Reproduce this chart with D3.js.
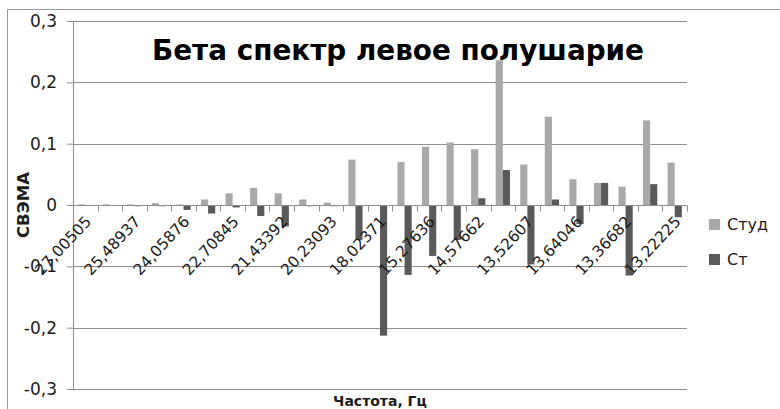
<!DOCTYPE html>
<html>
<head>
<meta charset="utf-8">
<script src="https://cdn.jsdelivr.net/npm/d3@7/dist/d3.min.js"></script>
<style>
  html, body { margin: 0; padding: 0; background: #fff; }
  svg { display: block; }
</style>
</head>
<body>
<svg id="chart" width="780" height="409"></svg>
<script>
// ---- data ----
const categories = d3.range(1, 26); // 25 frequency bins
const tickLabels = ["27,00505", "25,48937", "24,05876", "22,70845", "21,43392", "20,23093",
                    "18,02371", "15,27636", "14,57662", "13,52607", "13,64046", "13,36682", "13,22225"];
const seriesNames = ["Студ", "Ст"];
const stud = [0.001, 0.001, 0.001, 0.003, 0.001, 0.009, 0.019, 0.028, 0.019, 0.009, 0.004, 0.074, 0.000,
              0.070, 0.095, 0.102, 0.091, 0.236, 0.066, 0.144, 0.042, 0.036, 0.030, 0.138, 0.069];
const st   = [0.000, -0.001, -0.002, -0.002, -0.008, -0.014, -0.004, -0.018, -0.035, -0.002, -0.002, -0.057, -0.213,
              -0.114, -0.083, -0.057, 0.011, 0.057, -0.097, 0.009, -0.031, 0.036, -0.115, 0.034, -0.020];
const yTicks = [-0.3, -0.2, -0.1, 0, 0.1, 0.2, 0.3];
const titleText = "Бета спектр левое полушарие";
const yTitle = "СВЭМА";
const xTitle = "Частота, Гц";

// ---- layout ----
const svg = d3.select("#chart");
const plot = { left: 73, right: 687, top: 21, bottom: 389 };
const colors = { "Студ": "#a9a9a9", "Ст": "#5a5a5a" };
const gridColor = "#8f8f8f";
const textColor = "#1c1c1c";
const font = "'DejaVu Sans', sans-serif";

// outer chart border
svg.append("path")
  .attr("d", "M7.5,409 L7.5,9.5 L780,9.5")
  .attr("fill", "none").attr("stroke", "#9a9a9a").attr("stroke-width", 1);

const x = d3.scaleBand().domain(categories).range([plot.left, plot.right]).padding(0);
const bw = x.bandwidth();
const x1 = d3.scaleBand().domain(seriesNames).range([bw * 0.21, bw * 0.79]).padding(0);
const y = d3.scaleLinear().domain([-0.3, 0.3]).range([plot.bottom, plot.top]);

// gridlines + y axis
const yAxis = d3.axisLeft(y).tickValues(yTicks).tickSize(6).tickPadding(10)
  .tickFormat(d => d3.format(".1f")(d).replace(".", ",").replace("−", "-").replace("0,0", "0"));
const gy = svg.append("g").attr("transform", `translate(${plot.left},0)`).call(yAxis);
gy.select(".domain").attr("stroke", gridColor);
gy.selectAll(".tick line").attr("stroke", gridColor);
gy.selectAll(".tick text").attr("fill", textColor).style("font-family", font).style("font-size", "17px");

svg.append("g").selectAll("line").data(yTicks.filter(d => d !== 0)).join("line")
  .attr("x1", plot.left).attr("x2", plot.right)
  .attr("y1", d => Math.round(y(d)) + 0.5).attr("y2", d => Math.round(y(d)) + 0.5)
  .attr("stroke", gridColor).attr("stroke-width", 1);

// title (inside plot area)
const title = svg.append("text")
  .attr("x", 398).attr("y", 60).attr("text-anchor", "middle")
  .style("font-family", font).style("font-weight", "bold").style("font-size", "28px")
  .attr("fill", "#000").text(titleText);
const tl = title.node().getComputedTextLength();
title.style("font-size", (28 * 492 / tl) + "px");

// bars
const data = categories.map((c, i) => ({ c, vals: [{ s: "Студ", v: stud[i] }, { s: "Ст", v: st[i] }] }));
svg.append("g").selectAll("g").data(data).join("g")
  .attr("transform", d => `translate(${x(d.c)},0)`)
  .selectAll("rect").data(d => d.vals).join("rect")
  .attr("x", d => x1(d.s))
  .attr("width", x1.bandwidth())
  .attr("y", d => y(Math.max(0, d.v)))
  .attr("height", d => Math.abs(y(d.v) - y(0)))
  .attr("fill", d => colors[d.s]);

// x axis line at zero with ticks at category boundaries
const zeroY = Math.round(y(0)) + 0.5;
svg.append("line").attr("x1", plot.left).attr("x2", plot.right)
  .attr("y1", zeroY).attr("y2", zeroY).attr("stroke", gridColor);
const bounds = categories.map(c => x(c)).concat([plot.right]);
svg.append("g").selectAll("line").data(bounds).join("line")
  .attr("x1", d => Math.round(d) + 0.5).attr("x2", d => Math.round(d) + 0.5)
  .attr("y1", zeroY).attr("y2", zeroY + 6).attr("stroke", gridColor);

// x tick labels (every second category), rotated
const labelCats = categories.filter((c, i) => i % 2 === 0);
svg.append("g").selectAll("text").data(labelCats).join("text")
  .attr("transform", d => `translate(${x(d) + bw / 2 + 3},${zeroY + 13}) rotate(-47)`)
  .attr("text-anchor", "end").attr("dy", "0.35em")
  .style("font-family", font).style("font-size", "15.5px").attr("fill", textColor)
  .text((d, i) => tickLabels[i]);

// axis titles
svg.append("text")
  .attr("transform", `translate(29,${y(0)}) rotate(-90)`)
  .attr("text-anchor", "middle")
  .style("font-family", font).style("font-weight", "bold").style("font-size", "16.5px")
  .attr("fill", textColor).text(yTitle);
svg.append("text")
  .attr("x", 380).attr("y", 406).attr("text-anchor", "middle")
  .style("font-family", font).style("font-weight", "bold").style("font-size", "14px")
  .attr("fill", textColor).text(xTitle);

// legend
const legend = svg.append("g").attr("transform", "translate(709,219)");
const li = legend.selectAll("g").data(seriesNames).join("g")
  .attr("transform", (d, i) => `translate(0,${i * 35})`);
li.append("rect").attr("width", 11).attr("height", 11).attr("fill", d => colors[d]);
li.append("text").attr("x", 18).attr("y", 5.5).attr("dy", "0.35em")
  .style("font-family", font).style("font-size", "16px").attr("fill", textColor).text(d => d);
</script>
</body>
</html>
